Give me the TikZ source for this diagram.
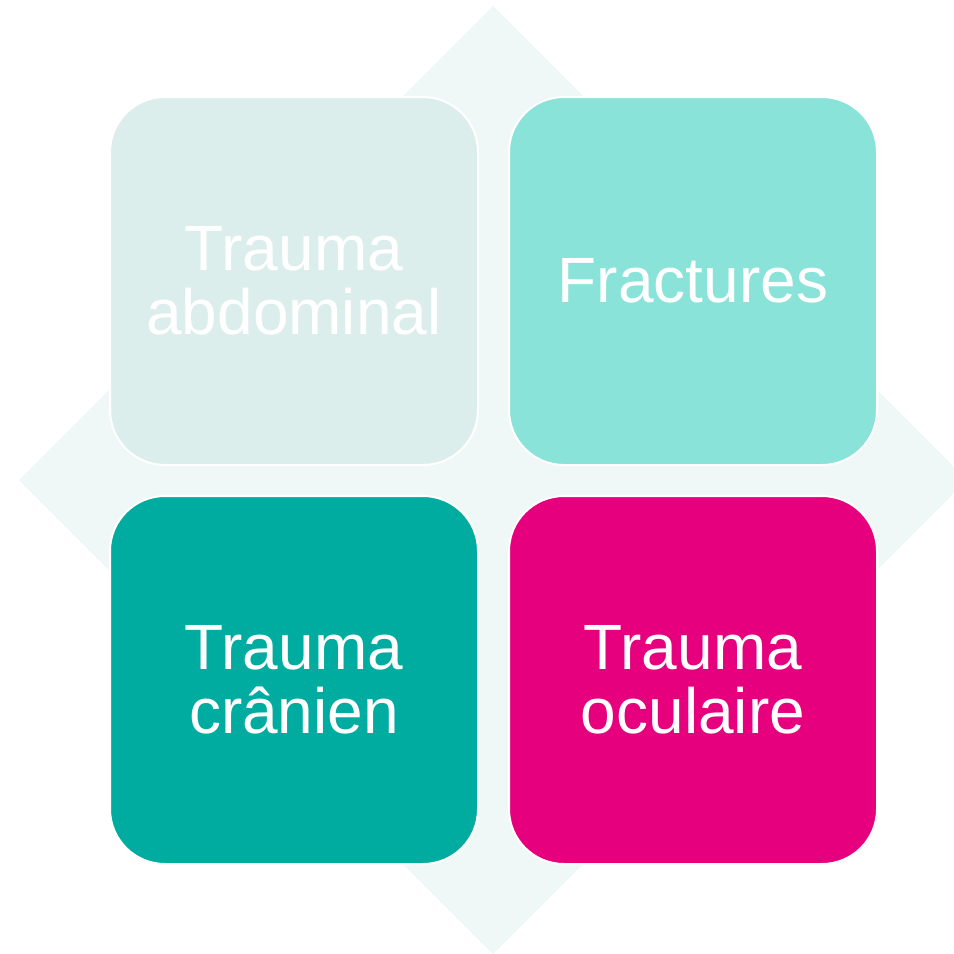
\documentclass[tikz,border=0pt]{standalone}
\usepackage{fontspec}
\setmainfont{Liberation Sans}
\usetikzlibrary{positioning}
\definecolor{diamondbg}{HTML}{EFF7F7}
\definecolor{abdocol}{HTML}{DCEEEC}
\definecolor{fractcol}{HTML}{8AE3D8}
\definecolor{cranecol}{HTML}{00ACA0}
\definecolor{oeilcol}{HTML}{E6007E}

\begin{document}
\begin{tikzpicture}[
  x=1pt, y=-1pt,
  node distance=29pt,
  tile/.style={rectangle, rounded corners=55pt, draw=white, line width=2pt, minimum width=368pt, minimum height=368pt, inner sep=0pt, align=center, text=white, font=\fontsize{64}{64}\selectfont}
]
\useasboundingbox (0,0) rectangle (954,954);
\fill[diamondbg] (493,6) -- (967,480) -- (493,954) -- (19,480) -- cycle;

\node[tile, fill=abdocol] (abdo) at (294,281) {Trauma\\abdominal};
\node[tile, fill=fractcol, right=of abdo] (fract) {Fractures};
\node[tile, fill=cranecol, below=of abdo] (crane) {Trauma\\crânien};
\node[tile, fill=oeilcol, right=of crane] (oeil) {Trauma\\oculaire};
\end{tikzpicture}
\end{document}
